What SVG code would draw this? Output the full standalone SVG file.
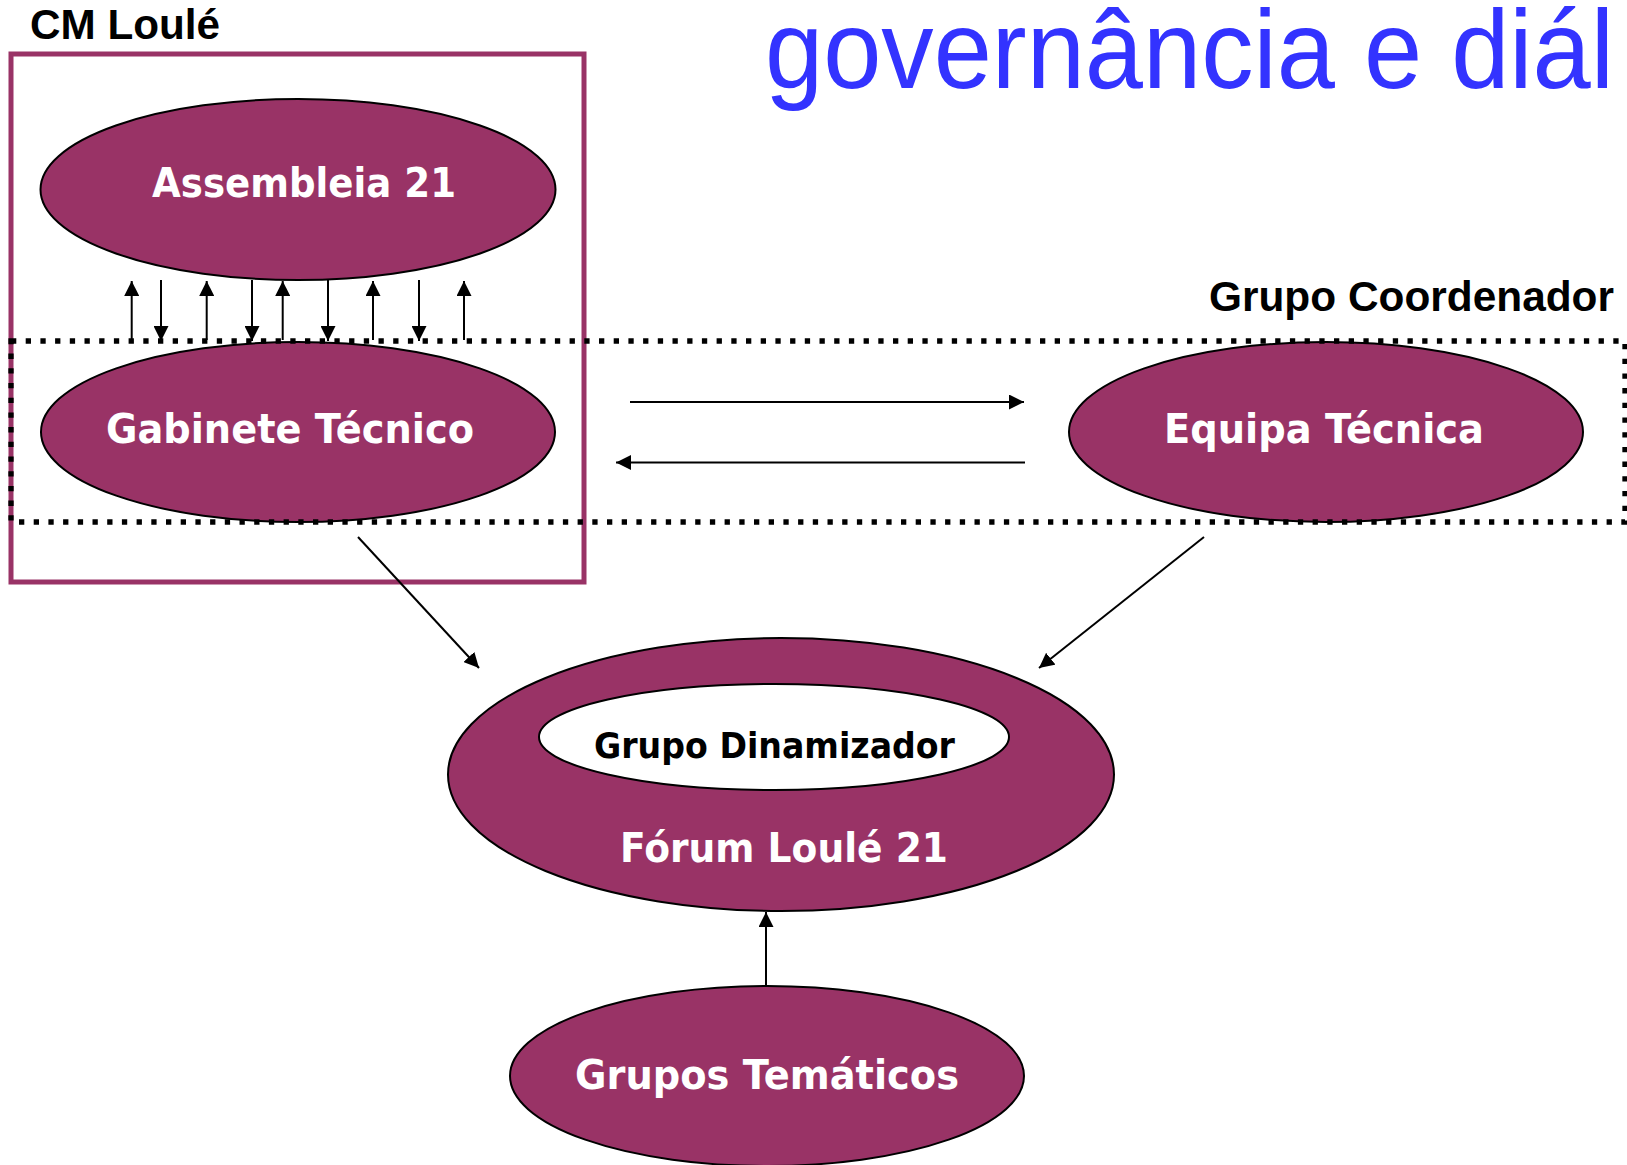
<svg xmlns="http://www.w3.org/2000/svg" width="1627" height="1165" viewBox="0 0 1627 1165">
<defs>
<style>
.node{fill:#993366;stroke:#000;stroke-width:2}
.lbl{font-family:"DejaVu Sans","Liberation Sans",sans-serif;font-weight:bold;font-size:41px;fill:#fff;text-anchor:middle}
.hdr{font-family:"Liberation Sans",Arial,sans-serif;font-weight:bold;font-size:42px;fill:#000}
.con{stroke:#000;stroke-width:2;fill:none}
.arr{marker-end:url(#ah)}
</style>
<marker id="ah" markerUnits="userSpaceOnUse" viewBox="0 0 15 15" markerWidth="15" markerHeight="15" refX="15" refY="7.5" orient="auto">
<path d="M0,0 L15,7.5 L0,15 z" fill="#000"/>
</marker>
</defs>
<rect width="1627" height="1165" fill="#fff"/>

<text x="765" y="88" font-family="'Liberation Sans',Arial,sans-serif" font-size="111" fill="#3333FF" textLength="849" lengthAdjust="spacingAndGlyphs">governância e diál</text>

<g id="cm-loule">
<rect x="11" y="54" width="573" height="528" fill="none" stroke="#993366" stroke-width="5"/>
<text class="hdr" x="30" y="39" textLength="190" lengthAdjust="spacingAndGlyphs">CM Loulé</text>
</g>

<g id="assembleia">
<ellipse class="node" cx="298" cy="189.5" rx="257.5" ry="90.5"/>
<text class="lbl" x="304" y="197" textLength="304" lengthAdjust="spacingAndGlyphs">Assembleia 21</text>
</g>

<g id="gabinete">
<ellipse class="node" cx="298" cy="432" rx="257" ry="90"/>
<text class="lbl" x="290" y="443" textLength="368" lengthAdjust="spacingAndGlyphs">Gabinete Técnico</text>
</g>

<g id="equipa">
<ellipse class="node" cx="1326" cy="432" rx="257" ry="90"/>
<text class="lbl" x="1324" y="443" textLength="320" lengthAdjust="spacingAndGlyphs">Equipa Técnica</text>
</g>

<g id="grupo-coordenador">
<rect x="11" y="341" width="1614" height="181" fill="none" stroke="#000" stroke-width="5.3" stroke-dasharray="5.3 9.4"/>
<text class="hdr" x="1209" y="311" textLength="405" lengthAdjust="spacingAndGlyphs">Grupo Coordenador</text>
</g>

<g id="forum">
<ellipse class="node" cx="781" cy="774.5" rx="333" ry="136.5"/>
<text class="lbl" x="784" y="862" textLength="328" lengthAdjust="spacingAndGlyphs">Fórum Loulé 21</text>
</g>

<g id="dinamizador">
<ellipse cx="774" cy="737" rx="235" ry="53" fill="#fff" stroke="#000" stroke-width="2"/>
<text x="774.5" y="758" font-family="'DejaVu Sans','Liberation Sans',sans-serif" font-weight="bold" font-size="36" fill="#000" text-anchor="middle" textLength="361" lengthAdjust="spacingAndGlyphs">Grupo Dinamizador</text>
</g>

<g id="tematicos">
<ellipse class="node" cx="767" cy="1076" rx="257" ry="90"/>
<text class="lbl" x="767" y="1089" textLength="384" lengthAdjust="spacingAndGlyphs">Grupos Temáticos</text>
</g>

<g id="connectors">
<line class="con arr" x1="131.7" y1="340" x2="131.7" y2="281"/>
<line class="con arr" x1="161" y1="280" x2="161" y2="341"/>
<line class="con arr" x1="206.7" y1="340" x2="206.7" y2="281"/>
<line class="con arr" x1="252" y1="280" x2="252" y2="341"/>
<line class="con arr" x1="282.7" y1="340" x2="282.7" y2="281"/>
<line class="con arr" x1="328" y1="280" x2="328" y2="341"/>
<line class="con arr" x1="373" y1="340" x2="373" y2="281"/>
<line class="con arr" x1="419" y1="280" x2="419" y2="341"/>
<line class="con arr" x1="464" y1="340" x2="464" y2="281"/>
<line class="con arr" x1="630" y1="402" x2="1024" y2="402"/>
<line class="con arr" x1="1025" y1="462.5" x2="616" y2="462.5"/>
<line class="con arr" x1="358" y1="537" x2="479" y2="668"/>
<line class="con arr" x1="1204" y1="537" x2="1039" y2="668"/>
<line class="con arr" x1="766" y1="986" x2="766" y2="912"/>
</g>
</svg>
